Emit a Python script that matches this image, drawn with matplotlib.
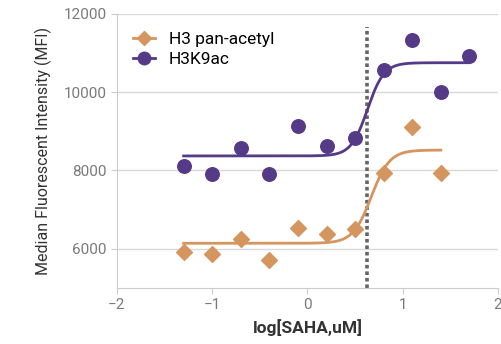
import numpy as np
import matplotlib
matplotlib.use("Agg")
import matplotlib.pyplot as plt

plt.rcParams['font.family'] = ['Roboto', 'DejaVu Sans']

# log10 of SAHA concentration (uM), 2-fold dilutions
log_conc_k9 = [-1.3, -1.0, -0.7, -0.4, -0.1, 0.2, 0.5, 0.8, 1.1, 1.4, 1.7]
mfi_k9 = [8120, 7920, 8560, 7920, 9130, 8620, 8820, 10560, 11320, 9990, 10930]

log_conc_pan = [-1.3, -1.0, -0.7, -0.4, -0.1, 0.2, 0.5, 0.8, 1.1, 1.4]
mfi_pan = [5910, 5870, 6260, 5710, 6520, 6370, 6510, 7940, 9100, 7940]

# 4-parameter logistic fit parameters: bottom, top, log EC50, hill slope
fit_k9 = (8370, 10750, 0.63, 5.0)
fit_pan = (6140, 8520, 0.67, 4.5)
ec50_line = 0.62

c_pan = '#D4955E'
c_k9 = '#553A87'


def logistic4(x, bottom, top, logec50, hill):
    return bottom + (top - bottom) / (1 + 10 ** ((logec50 - x) * hill))


fig = plt.figure(figsize=(5.02, 3.44), dpi=100)
ax = fig.add_axes([0.233, 0.163, 0.759, 0.797])

xs = np.linspace(log_conc_pan[0], log_conc_pan[-1], 300)
ax.plot(xs, logistic4(xs, *fit_pan), color=c_pan, lw=2, zorder=3)
xs = np.linspace(log_conc_k9[0], log_conc_k9[-1], 300)
ax.plot(xs, logistic4(xs, *fit_k9), color=c_k9, lw=2, zorder=3)

ax.scatter(log_conc_pan, mfi_pan, marker='D', s=65, color=c_pan, zorder=4)
ax.scatter(log_conc_k9, mfi_k9, marker='o', s=95, color=c_k9, zorder=4)

ax.plot([ec50_line, ec50_line], [5000, 11650], color='#666666', lw=2.6,
        linestyle=(0, (1, 0.8)), zorder=2)

# legend handles: marker with line through it
h1, = ax.plot([], [], color=c_pan, marker='D', ms=7.5, lw=2)
h2, = ax.plot([], [], color=c_k9, marker='o', ms=9, lw=2)
ax.legend([h1, h2], ['H3 pan-acetyl', 'H3K9ac'], loc='upper left',
          frameon=False, fontsize=12.5, handlelength=1.3, handletextpad=0.8,
          bbox_to_anchor=(0.0, 0.99), labelspacing=0.25)

ax.set_xlim(-2, 2)
ax.set_ylim(5000, 12000)
ax.set_xticks([-2, -1, 0, 1, 2])
ax.set_yticks([6000, 8000, 10000, 12000])
ax.grid(axis='y', color='#d9d9d9', lw=1)
ax.set_axisbelow(True)

for s in ['top', 'right']:
    ax.spines[s].set_visible(False)
for s in ['left', 'bottom']:
    ax.spines[s].set_color('#cccccc')
ax.tick_params(colors='#cccccc', labelcolor='#7a7a7a', labelsize=11,
               length=4)

ax.set_xlabel('log[SAHA,uM]', fontsize=12.5, fontweight='bold',
              color='#333333', labelpad=5)
ax.set_ylabel('Median Fluorescent Intensity (MFI)', fontsize=11.5,
              color='#333333', labelpad=8)

fig.savefig('out.png', dpi=100)
